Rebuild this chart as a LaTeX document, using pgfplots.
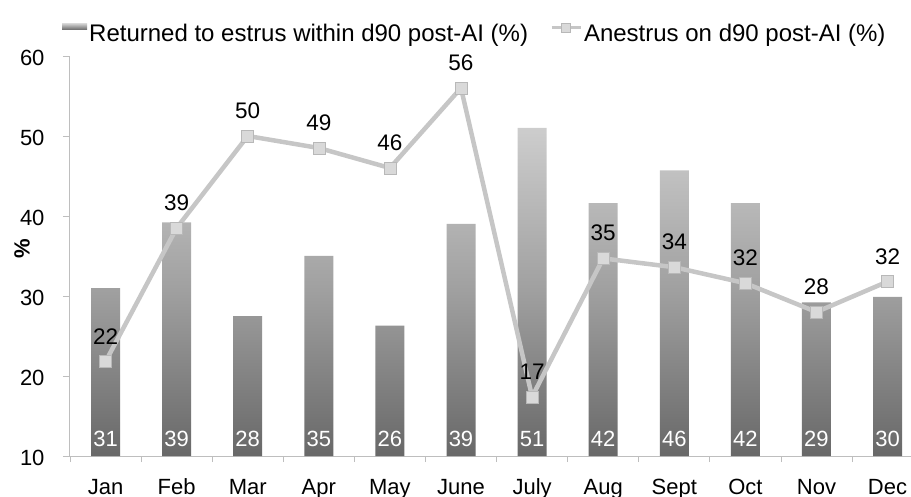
\documentclass[border=0pt]{standalone}
\usepackage{pgfplots}
\pgfplotsset{compat=1.18}
\usepackage{fontspec}
\setmainfont{Liberation Sans}
\definecolor{bartop}{HTML}{CDCDCD}
\definecolor{barbot}{HTML}{686868}
\definecolor{linec}{HTML}{C6C6C6}
\definecolor{markf}{HTML}{D9D9D9}
\definecolor{axc}{HTML}{BEBEBE}
\begin{document}
\begin{tikzpicture}
\begin{axis}[
  scale only axis,
  width=841bp, height=400bp,
  xmin=-0.5, xmax=11.33,
  ymin=10, ymax=60,
  ytick={10,20,...,60},
  xtick={0,...,11},
  xticklabels={Jan,Feb,Mar,Apr,May,June,July,Aug,Sept,Oct,Nov,Dec},
  minor xtick={-0.5,0.5,...,10.5},
  major x tick style={draw=none},
  minor tick length=6bp,
  major tick length=7bp,
  tick align=outside,
  tick style={axc, line width=0.8bp},
  axis x line*=bottom,
  axis y line*=left,
  axis line style={axc, line width=1bp, -},
  font=\fontsize{22bp}{26bp}\selectfont,
  tick label style={font=\fontsize{22bp}{26bp}\selectfont, black},
  /pgf/number format/assume math mode=true,
  xticklabel style={anchor=base, yshift=-31bp},
  yticklabel style={xshift=-15bp, yshift=-2bp},
  ylabel={\textbf{\%}},
  ylabel style={font=\fontsize{22bp}{26bp}\selectfont, at={(rel axis cs:0,0.5)}, anchor=center, xshift=7bp, yshift=48bp},
  clip=false,
  legend columns=2,
  legend style={at={(rel axis cs:0,1)}, anchor=south west, xshift=-8bp, yshift=10bp, draw=none, fill=none,
    font=\fontsize{24bp}{28bp}\selectfont, inner sep=0pt,
    /tikz/every even column/.append style={column sep=20bp}},
]
\addplot[ybar, bar width=29bp, draw=none, bottom color=barbot, top color=bartop, middle color=gray!75,
  legend image code/.code={\path[draw=none, fill=none, line width=0pt] (0bp,-12bp) -- (0bp,12bp);
    \fill[bottom color=barbot, top color=bartop] (0bp,4bp) rectangle (25bp,10bp);}]
  coordinates {(0,31) (1,39.2) (2,27.5) (3,35) (4,26.3) (5,39) (6,51) (7,41.6) (8,45.7) (9,41.6) (10,29.2) (11,29.9)};
\addlegendentry{Returned to estrus within d90 post-AI (\%)}
\addplot[draw=linec, line width=4.5bp, mark=square*, mark size=6bp,
  mark options={fill=markf, draw=markf!85!black, line width=0.6bp},
  nodes near coords, point meta=explicit symbolic,
  every node near coord/.append style={font=\fontsize{22.5bp}{26bp}\selectfont, black, anchor=south, inner sep=0pt, yshift=17bp},
  legend image code/.code={\path[draw=none, fill=none, line width=0pt] (0bp,-12bp) -- (0bp,12bp);
    \draw[linec, line width=3bp] (0bp,6bp) -- (29bp,6bp);
    \draw[fill=markf, draw=markf!85!black, line width=0.5bp] (10bp,1.5bp) rectangle (19bp,10.5bp);}]
  coordinates {(0,21.8) [22] (1,38.5) [39] (2,50) [50] (3,48.5) [49] (4,46) [46] (5,56) [56] (6,17.4) [17] (7,34.7) [35] (8,33.6) [34] (9,31.6) [32] (10,28) [28] (11,31.8) [32]};
\addlegendentry{Anestrus on d90 post-AI (\%)}
\addplot[draw=none, mark=none, nodes near coords, point meta=explicit symbolic,
  every node near coord/.append style={font=\fontsize{22bp}{26bp}\selectfont, white, anchor=base, inner sep=0pt, yshift=10bp}]
  coordinates {(0,10) [31] (1,10) [39] (2,10) [28] (3,10) [35] (4,10) [26] (5,10) [39] (6,10) [51] (7,10) [42] (8,10) [46] (9,10) [42] (10,10) [29] (11,10) [30]};
\end{axis}
\pgfresetboundingbox
\path[use as bounding box] (current axis.south west) ++(-70bp,-41bp) rectangle ++(911bp,497bp);
\end{tikzpicture}
\end{document}
